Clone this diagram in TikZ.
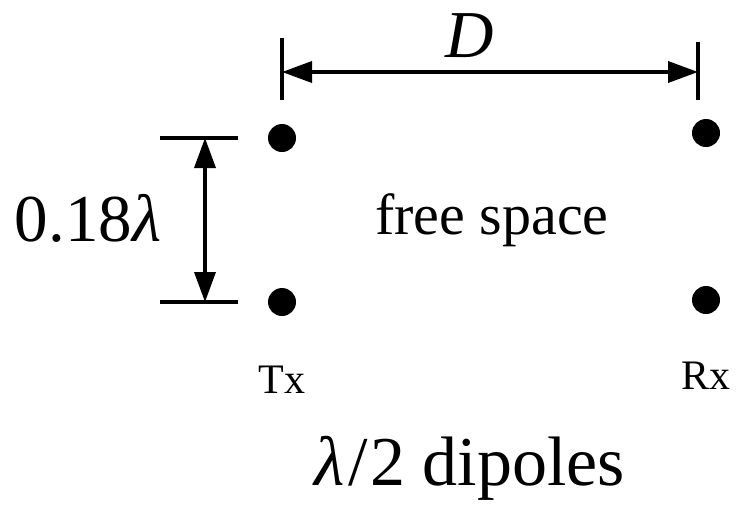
\documentclass[tikz,border=0pt]{standalone}
\usepackage{fontspec}
\setmainfont{Liberation Serif}
\usetikzlibrary{arrows.meta}

\tikzset{
  dipole/.style={circle,fill=black,inner sep=0pt,minimum size=28pt},
  extline/.style={line width=3.5pt},
  dimline/.style={line width=3.5pt,
    {Triangle[length=30pt,width=21pt]}-{Triangle[length=30pt,width=21pt]}},
  bigtext/.style={font=\fontsize{58}{62}\selectfont},
  hugetext/.style={font=\fontsize{67}{71}\selectfont},
  smalltext/.style={font=\fontsize{42}{46}\selectfont},
}

\begin{document}
\begin{tikzpicture} [x=1pt,y=-1pt]

\useasboundingbox (0,0) rectangle (739,507);

% antennas
\node [dipole] (txa) at (282,138) {};
\node [dipole] (txb) at (282,302) {};
\node [dipole] (rxa) at (706,133) {};
\node [dipole] (rxb) at (706,300) {};

% distance D
\coordinate (dl) at (282,72);
\coordinate (dr) at (698,72);
\draw [extline] (282,38) -- (282,100);
\draw [extline] (698,42) -- (698,100);
\draw [dimline] (dl) -- (dr);
\node [hugetext] (dlabel) at (470,36) {\textit{D}};

% spacing
\coordinate (st) at (205,138);
\coordinate (sb) at (205,302);
\draw [extline] (160,138) -- (238,138);
\draw [extline] (160,302) -- (238,302);
\draw [dimline] (st) -- (sb);
\node [hugetext] (slabel) at (88,218) {0.18\textit{λ}};

\node [bigtext] (medium) at (492,220) {free space};
\node [smalltext] (tx) at (282,380) {Tx};
\node [smalltext] (rx) at (706,376) {Rx};
\node [font=\fontsize{70}{74}\selectfont] (caption) at (470,468) {\textit{λ}\kern3pt/\kern3pt2 dipoles};

\end{tikzpicture}
\end{document}
